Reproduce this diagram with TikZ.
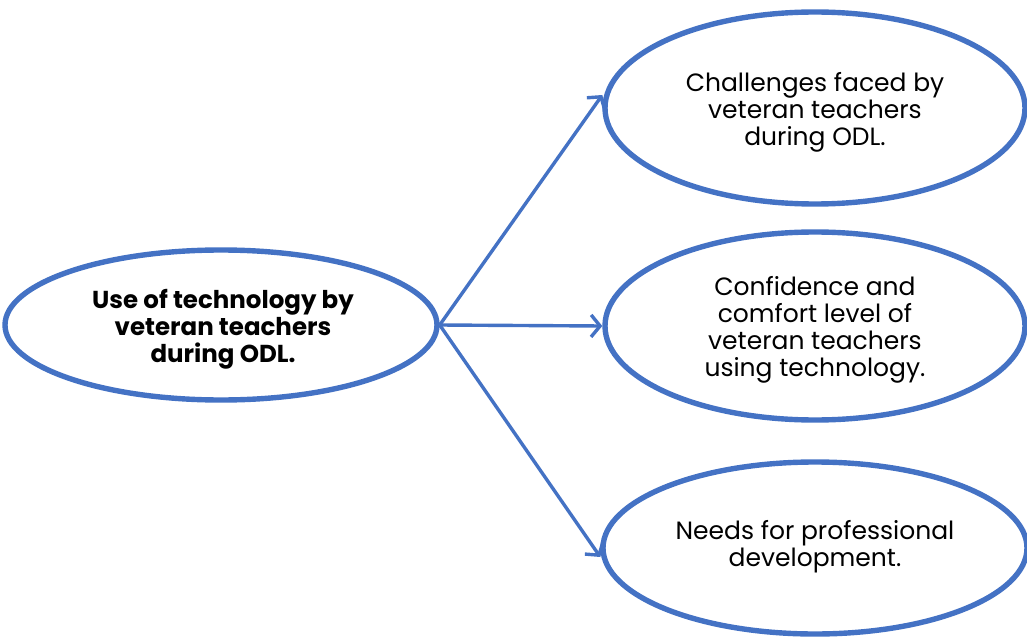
\documentclass[tikz,border=0pt]{standalone}
\usepackage{fontspec}
\setmainfont{Poppins}
\usetikzlibrary{arrows.meta,shapes.geometric}
\definecolor{ebl}{HTML}{4472C4}
\begin{document}
\begin{tikzpicture}[x=1pt,y=-1pt,
  oval/.style={draw=ebl,line width=5.4pt,ellipse,inner sep=0pt},
  lbl/.style={align=center,font=\fontsize{25}{27}\selectfont,text=black},
  conn/.style={draw=ebl,line width=3.4pt,-{Straight Barb[length=9pt,width=22pt,line width=3.4pt]}}]
\useasboundingbox (0,0) rectangle (1027,639);
\node[oval,minimum width=432pt,minimum height=150pt] (src) at (221,325) {};
\node[lbl,font=\fontsize{24.5}{27}\selectfont\bfseries] at (223,329) {Use of technology by\\veteran teachers\\during ODL.};
\node[oval,minimum width=420pt,minimum height=192pt] (t1) at (815,108) {};
\node[lbl] at (815,112) {Challenges faced by\\veteran teachers\\during ODL.};
\node[oval,minimum width=420pt,minimum height=188pt] (t2) at (815,326) {};
\node[lbl] at (815,330) {Confidence and\\comfort level of\\veteran teachers\\using technology.};
\node[oval,minimum width=424pt,minimum height=172pt] (t3) at (815,548) {};
\node[lbl] at (815,547) {Needs for professional\\development.};
\draw[conn] (src.east) -- (t1.west |- 0,95) ;
\draw[conn] (src.east) -- (t2.west);
\draw[conn] (src.east) -- (t3.west |- 0,557);
\end{tikzpicture}
\end{document}
